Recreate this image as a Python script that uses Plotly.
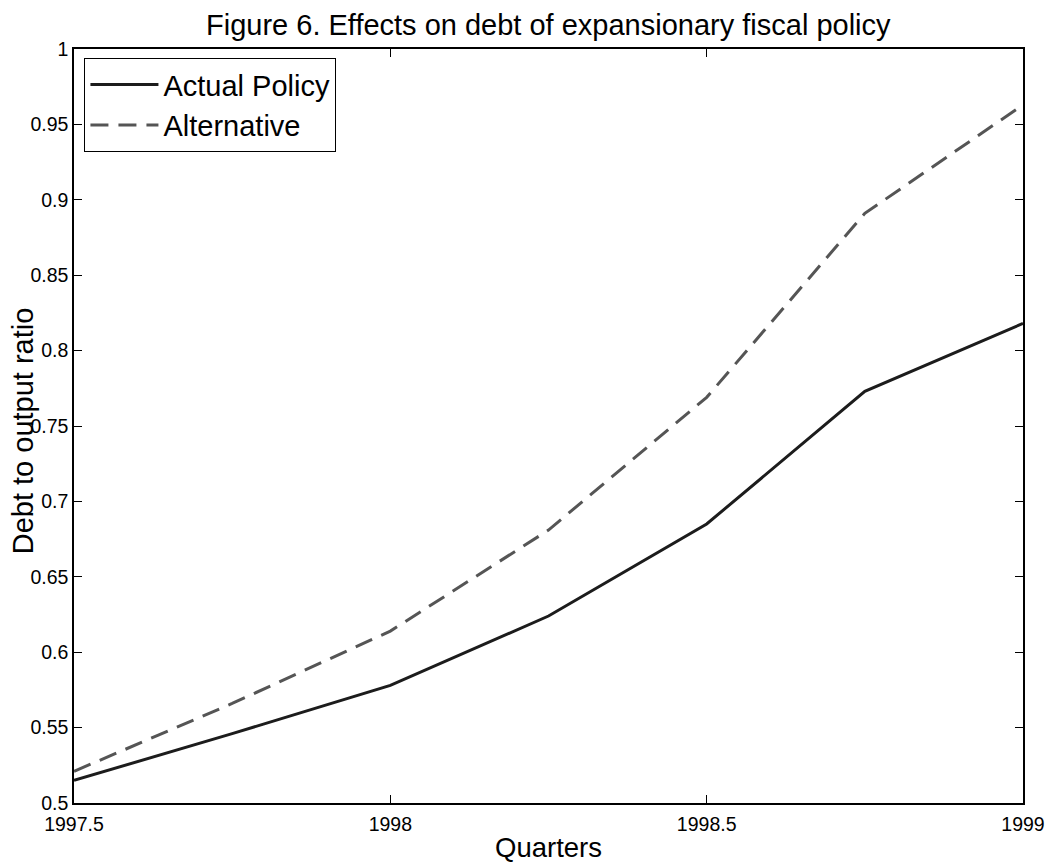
import plotly.graph_objects as go

# Quarterly debt-to-output path under the two fiscal scenarios
quarters = [1997.5, 1997.75, 1998.0, 1998.25, 1998.5, 1998.75, 1999.0]
actual_policy = [0.515, 0.546, 0.578, 0.624, 0.685, 0.773, 0.818]
alternative = [0.521, 0.566, 0.614, 0.681, 0.769, 0.891, 0.963]

y_ticks = [0.5, 0.55, 0.6, 0.65, 0.7, 0.75, 0.8, 0.85, 0.9, 0.95, 1.0]
y_tick_text = ["0.5", "0.55", "0.6", "0.65", "0.7", "0.75", "0.8", "0.85", "0.9", "0.95", "1"]
x_ticks = [1997.5, 1998.0, 1998.5, 1999.0]
x_tick_text = ["1997.5", "1998", "1998.5", "1999"]

FONT = "Liberation Sans, Arial, Helvetica, sans-serif"

fig = go.Figure()
fig.add_trace(go.Scatter(
    x=quarters, y=actual_policy, mode="lines", name="Actual Policy",
    line=dict(color="#1c1c1c", width=3),
))
fig.add_trace(go.Scatter(
    x=quarters, y=alternative, mode="lines", name="Alternative",
    line=dict(color="#555555", width=3, dash="18px,10px"),
))

axis_common = dict(
    showline=True, linecolor="black", linewidth=1.5, mirror="allticks",
    ticks="inside", ticklen=8, tickwidth=1, tickcolor="black",
    showgrid=False, zeroline=False,
    tickfont=dict(family=FONT, size=19.5, color="black"),
)

fig.update_layout(
    width=1057, height=867,
    margin=dict(l=73.5, r=26.3, t=49.3, b=64.3),
    paper_bgcolor="white", plot_bgcolor="white",
    font=dict(family=FONT, color="black"),
    xaxis=dict(range=[1997.5, 1999.0], tickvals=x_ticks, ticktext=x_tick_text,
               ticklabelstandoff=3, **axis_common),
    yaxis=dict(range=[0.5, 1.0], tickvals=y_ticks, ticktext=y_tick_text, **axis_common),
    showlegend=True,
    legend=dict(
        x=0.011, y=0.988, xanchor="left", yanchor="top",
        bordercolor="black", borderwidth=1, bgcolor="white",
        font=dict(family=FONT, size=29, color="black"),
        itemwidth=68, tracegroupgap=0,
    ),
    annotations=[
        dict(text="Figure 6. Effects on debt of expansionary fiscal policy",
             xref="paper", yref="paper", x=0.5, y=1.0, yshift=24,
             xanchor="center", yanchor="middle", showarrow=False,
             font=dict(family=FONT, size=29, color="black")),
        dict(text="Quarters",
             xref="paper", yref="paper", x=0.5, y=0.0, yshift=-44,
             xanchor="center", yanchor="middle", showarrow=False,
             font=dict(family=FONT, size=27.5, color="black")),
        dict(text="Debt to output ratio", textangle=-90,
             xref="paper", yref="paper", x=0.0, y=0.493, xshift=-51,
             xanchor="center", yanchor="middle", showarrow=False,
             font=dict(family=FONT, size=29, color="black")),
    ],
)

fig.write_html("out.html")
